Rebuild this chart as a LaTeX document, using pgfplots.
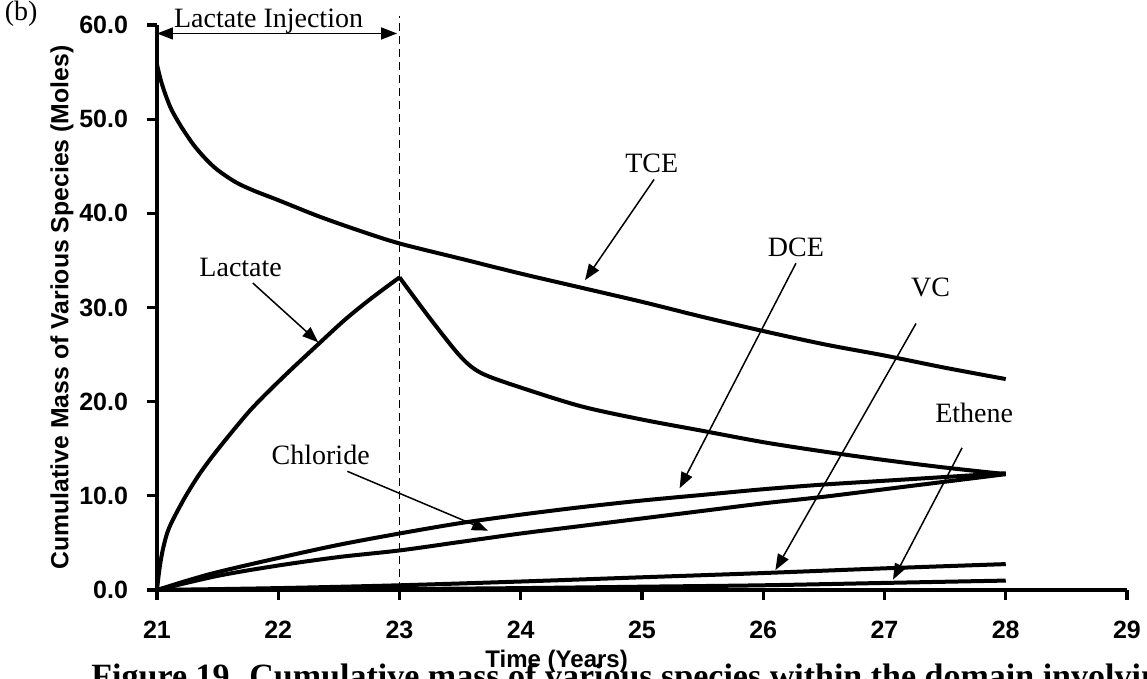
\documentclass[border=0pt]{standalone}
\usepackage{fontspec}
\setmainfont{Liberation Serif}
\setsansfont{Liberation Sans}
\usepackage{pgfplots}
\usepackage{pgfplotstable}
\pgfplotsset{compat=1.18}
\usetikzlibrary{arrows.meta}

% TCE
\pgfplotstableread{
t m
21.00 55.8
21.03 54.2
21.07 52.6
21.12 51.0
21.20 49.2
21.30 47.3
21.40 45.8
21.50 44.6
21.65 43.3
21.80 42.4
22.00 41.4
22.33 39.7
22.66 38.2
23.00 36.8
23.50 35.2
24.00 33.6
24.50 32.1
25.00 30.6
25.50 29.0
26.00 27.5
26.50 26.1
27.00 24.9
27.50 23.6
28.00 22.4
}\tce

% Lactate, injection period
\pgfplotstableread{
t m
21.00 0.0
21.02 2.2
21.05 4.4
21.10 6.6
21.22 9.6
21.35 12.3
21.50 14.9
21.77 19.1
22.04 22.6
22.33 26.1
22.55 28.7
22.76 30.9
23.00 33.2
}\lacup

% Lactate, after injection
\pgfplotstableread{
t m
23.00 33.2
23.26 28.7
23.51 24.7
23.68 23.0
24.00 21.5
24.50 19.5
25.00 18.1
25.50 16.9
26.00 15.7
26.50 14.7
27.00 13.8
27.50 13.0
28.00 12.3
}\lacdown

% Chloride
\pgfplotstableread{
t m
21.00 0.0
21.25 1.0
21.50 1.9
22.00 3.4
22.50 4.8
23.00 6.0
23.50 7.1
24.00 8.0
24.50 8.8
25.00 9.5
25.50 10.1
26.00 10.7
26.50 11.2
27.00 11.6
27.50 12.0
28.00 12.4
}\chl

% DCE
\pgfplotstableread{
t m
21.00 0.0
21.50 1.5
22.00 2.6
22.50 3.5
23.00 4.2
23.50 5.1
24.00 6.0
24.50 6.8
25.00 7.6
25.50 8.4
26.00 9.2
26.50 9.9
27.00 10.7
27.50 11.5
28.00 12.3
}\dce

% VC
\pgfplotstableread{
t m
21.00 0.00
22.00 0.20
23.00 0.50
24.00 0.90
25.00 1.35
26.00 1.80
27.00 2.30
28.00 2.75
}\vc

% Ethene
\pgfplotstableread{
t m
21.00 0.00
22.00 0.03
23.00 0.10
24.00 0.20
25.00 0.35
26.00 0.50
27.00 0.75
28.00 1.00
}\eth

\begin{document}
\begin{tikzpicture}[
  lbl/.style={font=\fontsize{14}{16}\selectfont, inner sep=0pt},
  pt/.style={line width=0.75pt, -{Triangle[length=8pt,width=6pt]}},
  crv/.style={black, line width=2pt, smooth, tension=0.5, line join=round}
]
\useasboundingbox (-78.5pt,-44.5pt) rectangle (495pt,295pt);
\begin{axis}[
  at={(0,0)}, anchor=south west,
  scale only axis, width=485pt, height=282.5pt,
  xmin=21, xmax=29, ymin=0, ymax=60,
  axis x line=bottom, axis y line=left,
  axis line style={-, line width=2pt},
  tick align=outside, major tick length=5pt,
  every tick/.style={black, line width=1.6pt},
  xtick={21,22,...,29}, ytick={0,10,...,60},
  /pgf/number format/assume math mode=true,
  every tick label/.append style={font=\sffamily\bfseries\fontsize{12.5}{14}\selectfont},
  xticklabel style={yshift=-7pt},
  yticklabel style={xshift=-6pt, /pgf/number format/.cd, fixed, fixed zerofill, precision=1},
  xlabel={Time (Years)},
  ylabel={Cumulative Mass of Various Species (Moles)},
  xlabel style={at={(axis description cs:0.412,-0.127)}, anchor=center,
    font=\sffamily\bfseries\fontsize{12}{14}\selectfont},
  ylabel style={at={(axis description cs:-0.098,0.5)}, anchor=center,
    font=\sffamily\bfseries\fontsize{12.4}{14}\selectfont},
  clip=false,
]
\addplot[crv] table {\tce};
\addplot[crv] table {\lacup};
\addplot[crv] table {\lacdown};
\addplot[crv] table {\chl};
\addplot[crv] table {\dce};
\addplot[crv] table {\vc};
\addplot[crv] table {\eth};

\draw[line width=0.6pt, dash pattern=on 4pt off 2.5pt] (axis cs:23,0) -- (axis cs:23,61);
\draw[line width=0.75pt, {Triangle[length=8pt,width=6pt]}-{Triangle[length=8pt,width=6pt]}]
  (axis cs:21,59.1) -- (axis cs:22.98,59.1);
\node[lbl, anchor=base] at (axis cs:21.92,59.7) {Lactate Injection};

\node[lbl] at (axis cs:25.08,45.3) {TCE};
\draw[pt] (axis cs:25.1,43.6) -- (axis cs:24.53,32.9);
\node[lbl] at (axis cs:26.27,36.4) {DCE};
\draw[pt] (axis cs:26.27,34.7) -- (axis cs:25.31,10.8);
\node[lbl] at (axis cs:27.38,32.1) {VC};
\draw[pt] (axis cs:27.26,28.3) -- (axis cs:26.1,2.1);
\node[lbl] at (axis cs:27.74,18.8) {Ethene};
\draw[pt] (axis cs:27.64,15.1) -- (axis cs:27.07,1.1);
\node[lbl] at (axis cs:21.69,34.2) {Lactate};
\draw[pt] (axis cs:21.79,32.6) -- (axis cs:22.33,26.3);
\node[lbl] at (axis cs:22.35,14.3) {Chloride};
\draw[pt] (axis cs:22.57,12.6) -- (axis cs:23.73,6.3);

\node[lbl] at (axis description cs:-0.14,1.02) {(b)};
\end{axis}
\node[overlay, anchor=base west, inner sep=0pt, font=\bfseries\fontsize{17}{20}\selectfont]
  at (-33pt,-49pt) {Figure 19. Cumulative mass of various species within the domain involving lactate injection};
\end{tikzpicture}
\end{document}
